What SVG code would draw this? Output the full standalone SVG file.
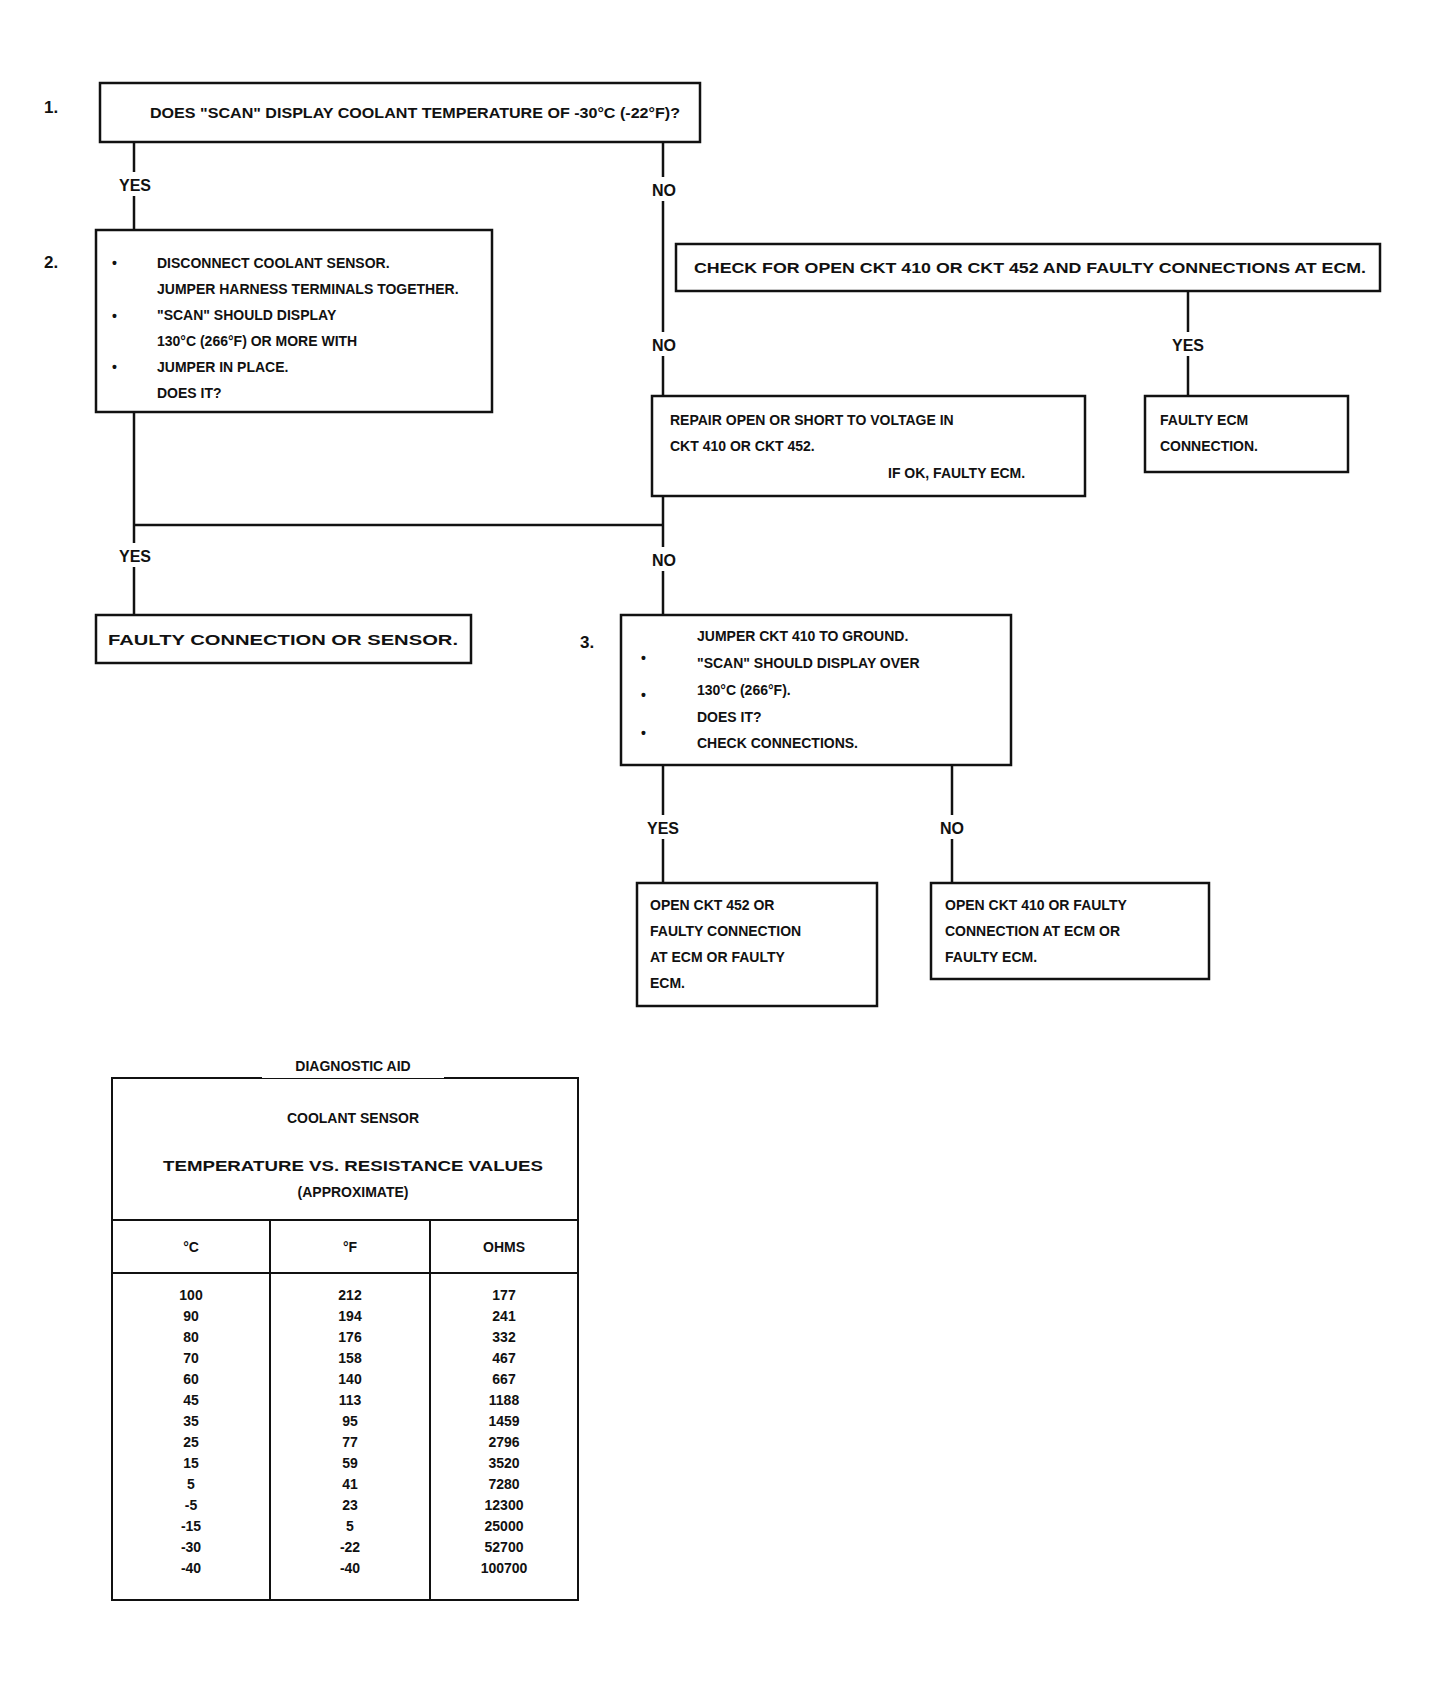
<svg xmlns="http://www.w3.org/2000/svg" width="1450" height="1685" viewBox="0 0 1450 1685">
<style>
text{font-family:"Liberation Sans",Arial,sans-serif;font-weight:bold;fill:#111}
.t{font-size:14px}
.q{font-size:15px}
.num{font-size:17px}
.lbl{font-size:16px;text-anchor:middle}
.tv{font-size:14px;text-anchor:middle}
.box{fill:#fff;stroke:#111;stroke-width:2.5}
.ln{stroke:#111;stroke-width:2.5;fill:none}
.bg{fill:#fff}
</style>
<rect width="1450" height="1685" fill="#fff"/>
<g id="connectors">
<line class="ln" x1="134" y1="142" x2="134" y2="230"/>
<line class="ln" x1="663" y1="142" x2="663" y2="615"/>
<line class="ln" x1="134" y1="412" x2="134" y2="615"/>
<line class="ln" x1="134" y1="525" x2="663" y2="525"/>
<line class="ln" x1="1188" y1="291" x2="1188" y2="396"/>
<line class="ln" x1="663" y1="765" x2="663" y2="883"/>
<line class="ln" x1="952" y1="765" x2="952" y2="883"/>
<rect class="bg" x="112" y="172" width="46" height="24"/><text class="lbl" x="135" y="191">YES</text>
<rect class="bg" x="643" y="177" width="40" height="24"/><text class="lbl" x="664" y="196">NO</text>
<rect class="bg" x="643" y="332" width="40" height="24"/><text class="lbl" x="664" y="351">NO</text>
<rect class="bg" x="1165" y="332" width="46" height="24"/><text class="lbl" x="1188" y="351">YES</text>
<rect class="bg" x="112" y="543" width="46" height="24"/><text class="lbl" x="135" y="562">YES</text>
<rect class="bg" x="643" y="547" width="40" height="24"/><text class="lbl" x="664" y="566">NO</text>
<rect class="bg" x="640" y="815" width="46" height="24"/><text class="lbl" x="663" y="834">YES</text>
<rect class="bg" x="932" y="815" width="40" height="24"/><text class="lbl" x="952" y="834">NO</text>
</g>
<g id="step1">
<text class="num" x="44" y="113">1.</text>
<rect class="box" x="100" y="83" width="600" height="59"/>
<text class="q" x="150" y="118" textLength="530" lengthAdjust="spacingAndGlyphs">DOES "SCAN" DISPLAY COOLANT TEMPERATURE OF -30°C (-22°F)?</text>
</g>
<g id="step2">
<text class="num" x="44" y="268">2.</text>
<rect class="box" x="96" y="230" width="396" height="182"/>
<text class="t" x="112" y="268">•</text>
<text class="t" x="157" y="268">DISCONNECT COOLANT SENSOR.</text>
<text class="t" x="157" y="294">JUMPER HARNESS TERMINALS TOGETHER.</text>
<text class="t" x="112" y="321">•</text>
<text class="t" x="157" y="320">"SCAN" SHOULD DISPLAY</text>
<text class="t" x="157" y="346">130°C (266°F) OR MORE WITH</text>
<text class="t" x="112" y="372">•</text>
<text class="t" x="157" y="372">JUMPER IN PLACE.</text>
<text class="t" x="157" y="398">DOES IT?</text>
</g>
<g id="intermittent">
<rect class="box" x="676" y="244" width="704" height="47"/>
<text class="q" x="694" y="273" textLength="672" lengthAdjust="spacingAndGlyphs">CHECK FOR OPEN CKT 410 OR CKT 452 AND FAULTY CONNECTIONS AT ECM.</text>
</g>
<g id="repair-ckt">
<rect class="box" x="652" y="396" width="433" height="100"/>
<text class="t" x="670" y="425">REPAIR OPEN OR SHORT TO VOLTAGE IN</text>
<text class="t" x="670" y="451">CKT 410 OR CKT 452.</text>
<text class="t" x="888" y="478">IF OK, FAULTY ECM.</text>
</g>
<g id="faulty-conn">
<rect class="box" x="1145" y="396" width="203" height="76"/>
<text class="t" x="1160" y="425">FAULTY ECM</text>
<text class="t" x="1160" y="451">CONNECTION.</text>
</g>
<g id="faulty-sensor">
<rect class="box" x="96" y="615" width="375" height="48"/>
<text class="t" x="108" y="645" textLength="350" lengthAdjust="spacingAndGlyphs">FAULTY CONNECTION OR SENSOR.</text>
</g>
<g id="step3">
<text class="num" x="580" y="648">3.</text>
<rect class="box" x="621" y="615" width="390" height="150"/>
<text class="t" x="641" y="663">•</text>
<text class="t" x="697" y="641">JUMPER CKT 410 TO GROUND.</text>
<text class="t" x="697" y="668">"SCAN" SHOULD DISPLAY OVER</text>
<text class="t" x="641" y="700">•</text>
<text class="t" x="697" y="695">130°C (266°F).</text>
<text class="t" x="697" y="722">DOES IT?</text>
<text class="t" x="641" y="738">•</text>
<text class="t" x="697" y="748">CHECK CONNECTIONS.</text>
</g>
<g id="open-452">
<rect class="box" x="637" y="883" width="240" height="123"/>
<text class="t" x="650" y="910">OPEN CKT 452 OR</text>
<text class="t" x="650" y="936">FAULTY CONNECTION</text>
<text class="t" x="650" y="962">AT ECM OR FAULTY</text>
<text class="t" x="650" y="988">ECM.</text>
</g>
<g id="open-410">
<rect class="box" x="931" y="883" width="278" height="96"/>
<text class="t" x="945" y="910">OPEN CKT 410 OR FAULTY</text>
<text class="t" x="945" y="936">CONNECTION AT ECM OR</text>
<text class="t" x="945" y="962">FAULTY ECM.</text>
</g>
<g id="table">
<rect x="112" y="1078" width="466" height="522" fill="none" stroke="#111" stroke-width="2"/>
<rect class="bg" x="262" y="1050" width="182" height="28"/>
<text class="tv" x="353" y="1071">DIAGNOSTIC AID</text>
<text class="tv" x="353" y="1123">COOLANT SENSOR</text>
<text class="tv" x="353" y="1171" textLength="380" lengthAdjust="spacingAndGlyphs">TEMPERATURE VS. RESISTANCE VALUES</text>
<text class="tv" x="353" y="1197">(APPROXIMATE)</text>
<line x1="112" y1="1220" x2="578" y2="1220" stroke="#111" stroke-width="2"/>
<line x1="112" y1="1273" x2="578" y2="1273" stroke="#111" stroke-width="2"/>
<line x1="270" y1="1220" x2="270" y2="1600" stroke="#111" stroke-width="2"/>
<line x1="430" y1="1220" x2="430" y2="1600" stroke="#111" stroke-width="2"/>
<text class="tv" x="191" y="1252">°C</text>
<text class="tv" x="350" y="1252">°F</text>
<text class="tv" x="504" y="1252">OHMS</text>
<g class="tv">
<text class="tv" x="191" y="1300">100</text><text class="tv" x="350" y="1300">212</text><text class="tv" x="504" y="1300">177</text>
<text class="tv" x="191" y="1321">90</text><text class="tv" x="350" y="1321">194</text><text class="tv" x="504" y="1321">241</text>
<text class="tv" x="191" y="1342">80</text><text class="tv" x="350" y="1342">176</text><text class="tv" x="504" y="1342">332</text>
<text class="tv" x="191" y="1363">70</text><text class="tv" x="350" y="1363">158</text><text class="tv" x="504" y="1363">467</text>
<text class="tv" x="191" y="1384">60</text><text class="tv" x="350" y="1384">140</text><text class="tv" x="504" y="1384">667</text>
<text class="tv" x="191" y="1405">45</text><text class="tv" x="350" y="1405">113</text><text class="tv" x="504" y="1405">1188</text>
<text class="tv" x="191" y="1426">35</text><text class="tv" x="350" y="1426">95</text><text class="tv" x="504" y="1426">1459</text>
<text class="tv" x="191" y="1447">25</text><text class="tv" x="350" y="1447">77</text><text class="tv" x="504" y="1447">2796</text>
<text class="tv" x="191" y="1468">15</text><text class="tv" x="350" y="1468">59</text><text class="tv" x="504" y="1468">3520</text>
<text class="tv" x="191" y="1489">5</text><text class="tv" x="350" y="1489">41</text><text class="tv" x="504" y="1489">7280</text>
<text class="tv" x="191" y="1510">-5</text><text class="tv" x="350" y="1510">23</text><text class="tv" x="504" y="1510">12300</text>
<text class="tv" x="191" y="1531">-15</text><text class="tv" x="350" y="1531">5</text><text class="tv" x="504" y="1531">25000</text>
<text class="tv" x="191" y="1552">-30</text><text class="tv" x="350" y="1552">-22</text><text class="tv" x="504" y="1552">52700</text>
<text class="tv" x="191" y="1573">-40</text><text class="tv" x="350" y="1573">-40</text><text class="tv" x="504" y="1573">100700</text>
</g>
</g>
</svg>
